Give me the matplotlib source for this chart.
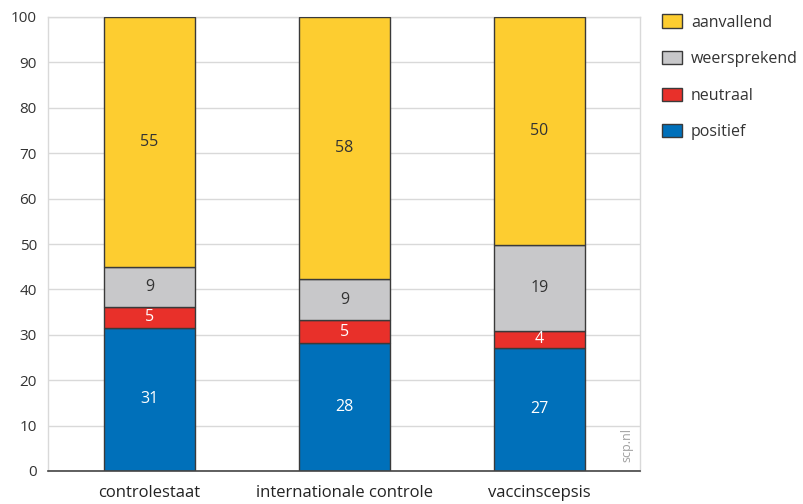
import matplotlib
matplotlib.use("Agg")
import matplotlib.pyplot as plt
from matplotlib.patches import Patch

categories = ["controlestaat", "internationale controle", "vaccinscepsis"]
series_names = ["positief", "neutraal", "weersprekend", "aanvallend"]
positief = [31.5, 28.1, 27.2]
neutraal = [4.7, 5.2, 3.7]
weersprekend = [8.8, 8.9, 18.9]
aanvallend = [55.0, 57.8, 50.2]
labels_positief = ["31", "28", "27"]
labels_neutraal = ["5", "5", "4"]
labels_weersprekend = ["9", "9", "19"]
labels_aanvallend = ["55", "58", "50"]
yticks = [0, 10, 20, 30, 40, 50, 60, 70, 80, 90, 100]

colors = {"positief": "#0070BA", "neutraal": "#E8302A",
          "weersprekend": "#C8C8CA", "aanvallend": "#FDCD30"}
textcol = {"positief": "white", "neutraal": "white",
           "weersprekend": "#333333", "aanvallend": "#333333"}

plt.rcParams['font.family'] = ['Open Sans', 'DejaVu Sans']

fig = plt.figure(figsize=(8.04, 5.04), dpi=100)
ax = fig.add_axes([48/804, 1-471/504, (640-48)/804, (471-17)/504])

data = [positief, neutraal, weersprekend, aanvallend]
labs = [labels_positief, labels_neutraal, labels_weersprekend, labels_aanvallend]
x = list(range(len(categories)))
bottom = [0.0]*len(categories)
for name, vals, lb in zip(series_names, data, labs):
    ax.bar(x, vals, width=0.467, bottom=bottom, color=colors[name],
           edgecolor="#3a3a3a", linewidth=1.0, zorder=3, label=name)
    for xi, v, b, t in zip(x, vals, bottom, lb):
        ax.text(xi, b + v/2, t, ha="center", va="center", fontsize=11.5,
                color=textcol[name], zorder=4)
    bottom = [b + v for b, v in zip(bottom, vals)]

ax.set_xlim(-0.52, 2.515)
ax.set_ylim(0, 100)
ax.set_yticks(yticks)
ax.set_yticklabels([str(t) for t in yticks], fontsize=11, color="#333333")
ax.set_xticks(x)
ax.set_xticklabels(categories, fontsize=12, color="#222222")
ax.tick_params(axis="x", length=0, pad=10)
ax.tick_params(axis="y", length=0, pad=8)
ax.grid(axis="y", color="#d9d9d9", linewidth=1.0, zorder=0)
for s in ["left", "right", "top"]:
    ax.spines[s].set_color("#d9d9d9")
    ax.spines[s].set_linewidth(1.0)
ax.spines["bottom"].set_color("#444444")
ax.spines["bottom"].set_linewidth(1.2)
ax.spines["bottom"].set_zorder(5)

ax.text(2.45, 2.0, "scp.nl", rotation=90, ha="center", va="bottom",
        fontsize=9, color="#a0a0a0")

handles = [Patch(facecolor=colors[n], edgecolor="#3a3a3a", linewidth=1.0)
           for n in reversed(series_names)]
fig.legend(handles, list(reversed(series_names)), loc="upper left",
           bbox_to_anchor=(648/804, 1-0/504), frameon=False, fontsize=11.5,
           handlelength=1.25, handleheight=0.9, handletextpad=0.55,
           labelspacing=1.28, labelcolor="#333333")

fig.savefig("out.png", dpi=100)
